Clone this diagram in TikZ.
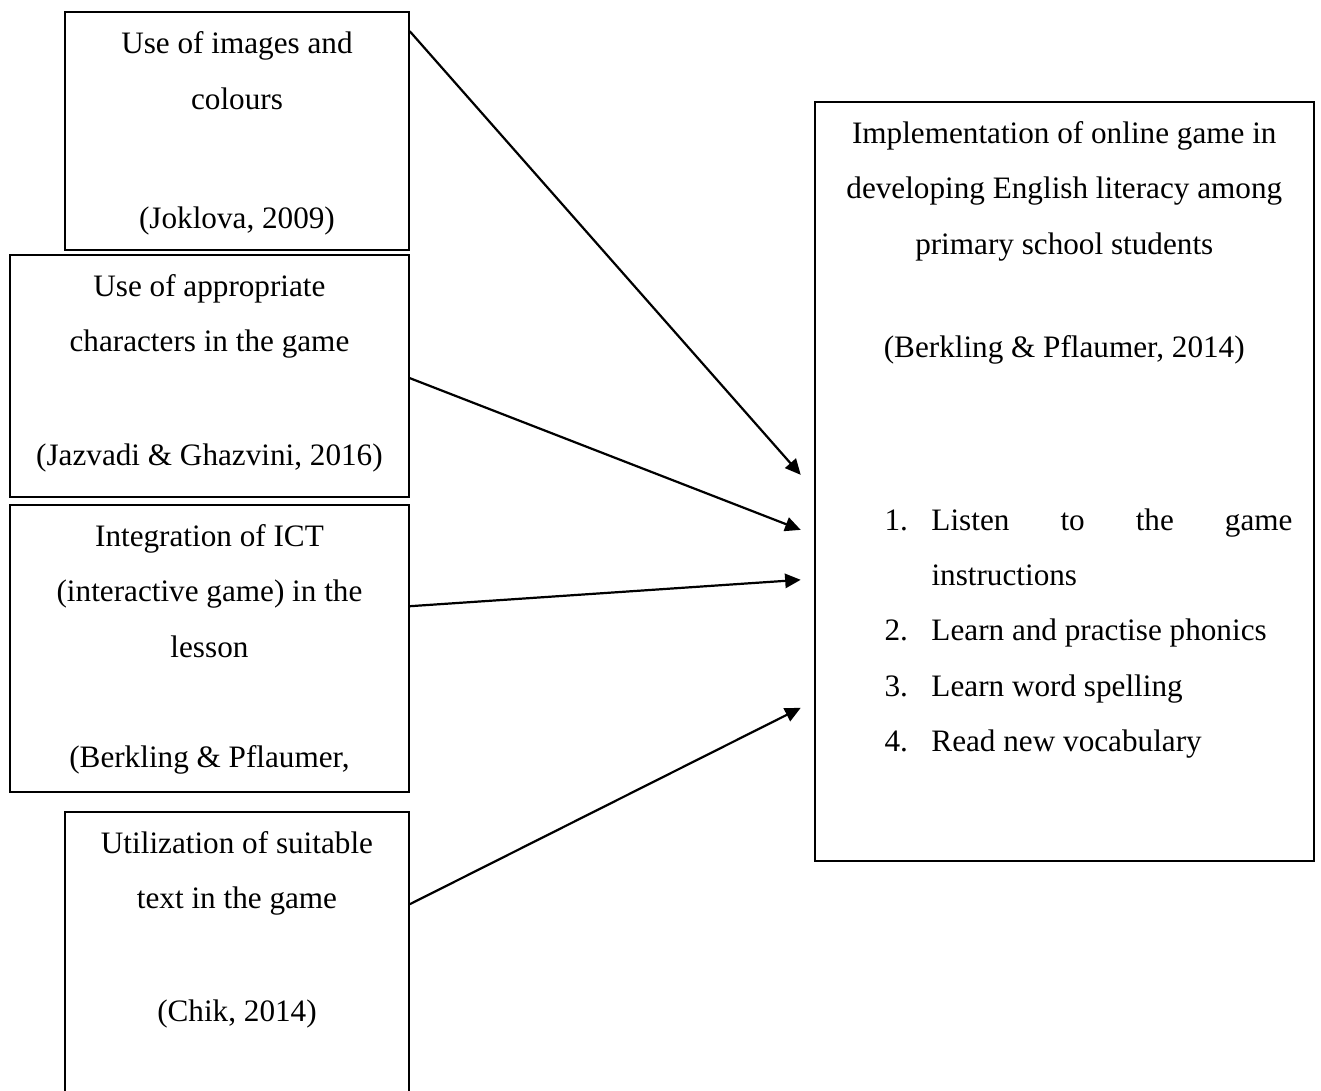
\documentclass[tikz,border=0pt]{standalone}
\usepackage{fontspec}
\setmainfont{Liberation Serif}
\usepackage{tikz}
\usetikzlibrary{arrows.meta,positioning}

\begin{document}
\begin{tikzpicture}[
  fnode/.style={draw, line width=0.6pt, inner sep=0pt},
  tnode/.style={inner sep=0pt, align=center,
                font=\fontsize{12}{21.3}\selectfont},
  lnode/.style={inner sep=0pt, text width=5.515cm, align=justify,
                font=\fontsize{12}{21.3}\selectfont},
  arr/.style={-{Triangle[length=6pt,width=5.5pt]}, line width=0.85pt},
]
  \useasboundingbox (0,0) rectangle (17.86,-14.75);

  %% ---- LEFT BOXES ----
  \node[fnode, minimum width=4.65cm, minimum height=3.217cm] (img) at (3.204,-1.771) {};
  \node[tnode, below=0.27cm of img.north]
    {Use of images and\\colours\\[24.5pt](Joklova, 2009)};

  \node[fnode, minimum width=5.394cm, minimum height=3.271cm] (chr) at (2.832,-5.082) {};
  \node[tnode, below=0.27cm of chr.north]
    {Use of appropriate\\characters in the game\\[22.5pt](Jazvadi \& Ghazvini, 2016)};

  \node[fnode, minimum width=5.394cm, minimum height=3.879cm] (ict) at (2.832,-8.766) {};
  \node[tnode, below=0.27cm of ict.north]
    {Integration of ICT\\(interactive game) in the\\lesson\\[21pt](Berkling \& Pflaumer,};

  \node[fnode, minimum width=4.65cm, minimum height=4.028cm] (txt) at (3.204,-12.99) {};
  \node[tnode, below=0.27cm of txt.north]
    {Utilization of suitable\\text in the game\\[22pt](Chik, 2014)};

  %% ---- RESULT BOX ----
  \node[fnode, minimum width=6.745cm, minimum height=10.26cm] (res) at (14.389,-6.508) {};
  \node[tnode, below=0.27cm of res.north]
    {Implementation of online game in\\developing English literacy among\\primary school students\\[18.5pt](Berkling \& Pflaumer, 2014)};
  \node[lnode, below right=5.50cm and 0.946cm of res.north west] (lst)
    {\tolerance=10000\hyphenpenalty=10000
     \noindent\hangindent=0.635cm\hangafter=1\makebox[0.635cm][l]{1.}Listen to the game instructions\par
     \noindent\makebox[0.635cm][l]{2.}Learn and practise phonics\par
     \noindent\makebox[0.635cm][l]{3.}Learn word spelling\par
     \noindent\makebox[0.635cm][l]{4.}Read new vocabulary\par};

  %% ---- ARROWS ----
  \draw[arr] ([yshift=-0.27cm]img.north east) -- ([shift={(-0.18,0.088)}]res.west);
  \draw[arr] ([yshift=-0.03cm]chr.east) -- ([shift={(-0.18,-0.656)}]res.west);
  \draw[arr] ([yshift=0.57cm]ict.east) -- ([shift={(-0.18,-1.331)}]res.west);
  \draw[arr] ([yshift=-1.26cm]txt.north east) -- ([shift={(-0.18,-3.062)}]res.west);
\end{tikzpicture}
\end{document}
